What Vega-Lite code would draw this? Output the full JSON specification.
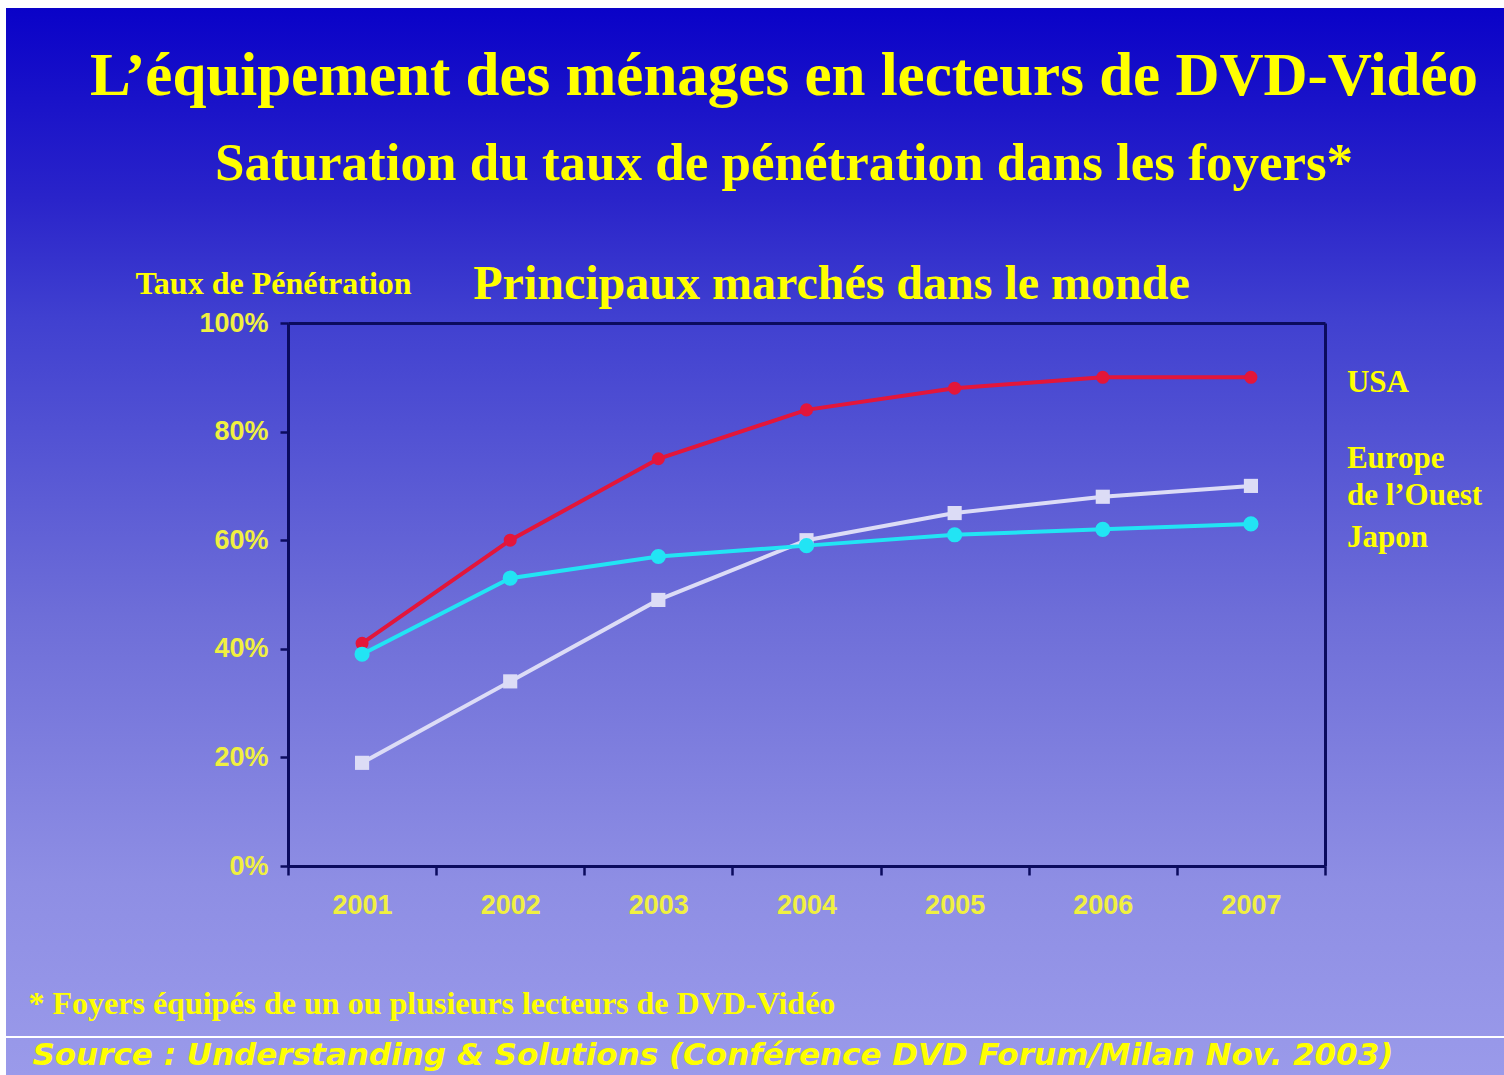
{
  "$schema": "https://vega.github.io/schema/vega-lite/v6.json",
  "width": 1498,
  "height": 1067,
  "autosize": "none",
  "padding": {"left": 6, "top": 8, "right": 0, "bottom": 0},
  "background": "#ffffff",
  "view": {
    "stroke": null,
    "fill": {
      "gradient": "linear", "x1": 0, "y1": 0, "x2": 0, "y2": 1,
      "stops": [
        {"offset": 0, "color": "#0a02c8"},
        {"offset": 0.18, "color": "#2a24ca"},
        {"offset": 0.29, "color": "#4040d0"},
        {"offset": 0.57, "color": "#6e6ed8"},
        {"offset": 0.82, "color": "#8e8ee4"},
        {"offset": 1, "color": "#9a9aea"}
      ]
    }
  },
  "title": {
    "text": "L’équipement des ménages en lecteurs de DVD-Vidéo",
    "subtitle": "Saturation du taux de pénétration dans les foyers*",
    "orient": "top",
    "anchor": "middle",
    "frame": "group",
    "offset": -184,
    "dx": 29,
    "font": "Liberation Serif",
    "fontSize": 61,
    "fontWeight": "bold",
    "color": "#ffff00",
    "subtitleFont": "Liberation Serif",
    "subtitleFontSize": 53,
    "subtitleFontWeight": "bold",
    "subtitleColor": "#ffff00",
    "subtitlePadding": 30
  },
  "data": {
    "values": [
      {"annee": "2001", "pays": "USA", "taux": 0.41},
      {"annee": "2002", "pays": "USA", "taux": 0.60},
      {"annee": "2003", "pays": "USA", "taux": 0.75},
      {"annee": "2004", "pays": "USA", "taux": 0.84},
      {"annee": "2005", "pays": "USA", "taux": 0.88},
      {"annee": "2006", "pays": "USA", "taux": 0.90},
      {"annee": "2007", "pays": "USA", "taux": 0.90},
      {"annee": "2001", "pays": "Europe de l’Ouest", "taux": 0.19},
      {"annee": "2002", "pays": "Europe de l’Ouest", "taux": 0.34},
      {"annee": "2003", "pays": "Europe de l’Ouest", "taux": 0.49},
      {"annee": "2004", "pays": "Europe de l’Ouest", "taux": 0.60},
      {"annee": "2005", "pays": "Europe de l’Ouest", "taux": 0.65},
      {"annee": "2006", "pays": "Europe de l’Ouest", "taux": 0.68},
      {"annee": "2007", "pays": "Europe de l’Ouest", "taux": 0.70},
      {"annee": "2001", "pays": "Japon", "taux": 0.39},
      {"annee": "2002", "pays": "Japon", "taux": 0.53},
      {"annee": "2003", "pays": "Japon", "taux": 0.57},
      {"annee": "2004", "pays": "Japon", "taux": 0.59},
      {"annee": "2005", "pays": "Japon", "taux": 0.61},
      {"annee": "2006", "pays": "Japon", "taux": 0.62},
      {"annee": "2007", "pays": "Japon", "taux": 0.63}
    ]
  },
  "layer": [
    {
      "mark": {"type": "rule", "color": "#ffffff", "strokeWidth": 2},
      "encoding": {
        "y": {"datum": -0.315, "type": "quantitative", "axis": null}
      }
    },
    {
      "mark": {"type": "line", "strokeWidth": 4},
      "encoding": {
        "x": {
          "field": "annee", "type": "ordinal",
          "scale": {"type": "band", "range": [282, 1319], "paddingInner": 0, "paddingOuter": 0},
          "axis": {
            "orient": "bottom", "offset": -209,
            "domainColor": "#0b0b5e", "domainWidth": 3,
            "tickColor": "#0b0b5e", "tickWidth": 2.5, "tickSize": 9, "tickBand": "extent",
            "labelColor": "#f0f040", "labelFont": "Liberation Sans", "labelFontWeight": "bold",
            "labelFontSize": 27, "labelPadding": 17, "labelAngle": 0,
            "grid": false,
            "title": "Principaux marchés dans le monde",
            "titleX": 825, "titleY": -582, "titleAnchor": null,
            "titleAlign": "center", "titleBaseline": "middle",
            "titleColor": "#ffff00", "titleFont": "Liberation Serif",
            "titleFontSize": 48, "titleFontWeight": "bold"
          }
        },
        "y": {
          "field": "taux", "type": "quantitative",
          "scale": {"domain": [0, 1], "range": [858, 315], "nice": false, "zero": true},
          "axis": {
            "orient": "left", "offset": -282,
            "values": [0, 0.2, 0.4, 0.6, 0.8, 1], "format": ".0%",
            "domainColor": "#0b0b5e", "domainWidth": 3,
            "tickColor": "#0b0b5e", "tickWidth": 2.5, "tickSize": 8,
            "labelColor": "#f0f040", "labelFont": "Liberation Sans", "labelFontWeight": "bold",
            "labelFontSize": 27, "labelPadding": 12,
            "grid": false,
            "title": "Taux de Pénétration",
            "titleX": -15, "titleY": 275, "titleAngle": 0, "titleAnchor": null,
            "titleAlign": "center", "titleBaseline": "middle",
            "titleColor": "#ffff00", "titleFont": "Liberation Serif",
            "titleFontSize": 32, "titleFontWeight": "bold"
          }
        },
        "color": {
          "field": "pays", "type": "nominal",
          "scale": {"domain": ["USA", "Europe de l’Ouest", "Japon"], "range": ["#e3163a", "#dcdcf6", "#22e4f4"]},
          "legend": null
        }
      }
    },
    {
      "mark": {"type": "point", "filled": true, "opacity": 1},
      "encoding": {
        "x": {"field": "annee", "type": "ordinal", "axis": null},
        "y": {"field": "taux", "type": "quantitative", "axis": null},
        "color": {
          "field": "pays", "type": "nominal",
          "scale": {"domain": ["USA", "Europe de l’Ouest", "Japon"], "range": ["#f5001e", "#dcdcf6", "#22e4f4"]},
          "legend": null
        },
        "shape": {
          "field": "pays", "type": "nominal",
          "scale": {"domain": ["USA", "Europe de l’Ouest", "Japon"], "range": ["circle", "square", "circle"]},
          "legend": null
        },
        "size": {
          "field": "pays", "type": "nominal",
          "scale": {"domain": ["USA", "Europe de l’Ouest", "Japon"], "range": [170, 230, 190]},
          "legend": null
        }
      }
    },
    {
      "mark": {"type": "point", "opacity": 0},
      "encoding": {
        "x": {
          "field": "annee", "type": "ordinal",
          "axis": {
            "orient": "top", "offset": -315,
            "domainColor": "#0b0b5e", "domainWidth": 3,
            "ticks": false, "labels": false, "grid": false,
            "title": "* Foyers équipés de un ou plusieurs lecteurs de DVD-Vidéo",
            "titleX": 22, "titleY": 680, "titleAnchor": null,
            "titleAlign": "left", "titleBaseline": "middle",
            "titleColor": "#ffff00", "titleFont": "Liberation Serif",
            "titleFontSize": 32, "titleFontWeight": "bold"
          }
        },
        "y": {
          "field": "taux", "type": "quantitative",
          "axis": {
            "orient": "right", "offset": -179,
            "domainColor": "#0b0b5e", "domainWidth": 3,
            "ticks": false, "labels": false, "grid": false,
            "title": "Source : Understanding & Solutions (Conférence DVD Forum/Milan Nov. 2003)",
            "titleX": -1293, "titleY": 1047, "titleAngle": 0, "titleAnchor": null,
            "titleAlign": "left", "titleBaseline": "middle",
            "titleColor": "#ffff00", "titleFont": "DejaVu Sans",
            "titleFontSize": 31, "titleFontWeight": "bold", "titleFontStyle": "italic"
          }
        }
      }
    },
    {
      "transform": [{"filter": "datum.annee == '2007' && datum.pays == 'USA'"}],
      "mark": {"type": "text", "align": "left", "baseline": "middle", "dx": 96, "dy": 6,
               "font": "Liberation Serif", "fontSize": 31, "fontWeight": "bold", "color": "#ffff00"},
      "encoding": {
        "x": {"field": "annee", "type": "ordinal", "axis": null},
        "y": {"field": "taux", "type": "quantitative", "axis": null},
        "text": {"value": "USA"}
      }
    },
    {
      "transform": [{"filter": "datum.annee == '2007' && datum.pays == 'Europe de l’Ouest'"}],
      "mark": {"type": "text", "align": "left", "baseline": "middle", "dx": 96, "dy": -27, "lineHeight": 37,
               "font": "Liberation Serif", "fontSize": 31, "fontWeight": "bold", "color": "#ffff00"},
      "encoding": {
        "x": {"field": "annee", "type": "ordinal", "axis": null},
        "y": {"field": "taux", "type": "quantitative", "axis": null},
        "text": {"value": ["Europe", "de l’Ouest"]}
      }
    },
    {
      "transform": [{"filter": "datum.annee == '2007' && datum.pays == 'Japon'"}],
      "mark": {"type": "text", "align": "left", "baseline": "middle", "dx": 96, "dy": 14,
               "font": "Liberation Serif", "fontSize": 31, "fontWeight": "bold", "color": "#ffff00"},
      "encoding": {
        "x": {"field": "annee", "type": "ordinal", "axis": null},
        "y": {"field": "taux", "type": "quantitative", "axis": null},
        "text": {"value": "Japon"}
      }
    }
  ],
  "resolve": {"axis": {"x": "independent", "y": "independent"}}
}
